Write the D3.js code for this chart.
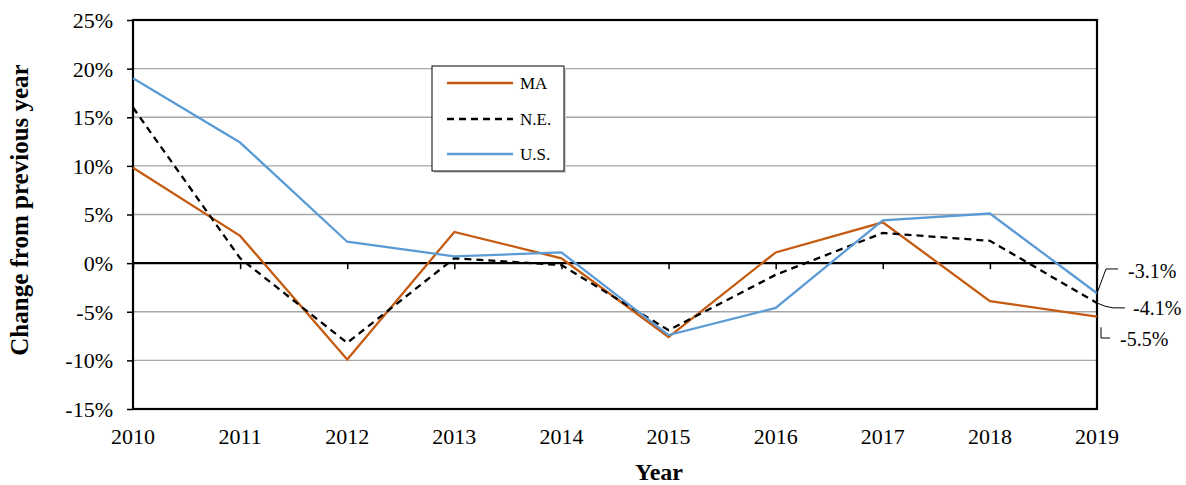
<!DOCTYPE html>
<html>
<head>
<meta charset="utf-8">
<script src="https://cdn.jsdelivr.net/npm/d3@7"></script>
<style>
  body { margin: 0; background: #fff; }
  svg { display: block; }
  svg text { font-family: "Liberation Serif", "Times New Roman", serif; fill: #000; }
</style>
</head>
<body>
<svg id="chart" width="1186" height="485"></svg>
<script>
// Year-over-year change, in percent
const years = [2010, 2011, 2012, 2013, 2014, 2015, 2016, 2017, 2018, 2019];
const maValues = [9.8, 2.8, -9.9, 3.2, 0.5, -7.6, 1.1, 4.2, -3.9, -5.5];
const neValues = [16.0, 0.5, -8.2, 0.5, -0.2, -6.9, -1.2, 3.1, 2.3, -4.1];
const usValues = [19.0, 12.4, 2.2, 0.7, 1.1, -7.4, -4.6, 4.4, 5.1, -3.1];
const yTicks = [-15, -10, -5, 0, 5, 10, 15, 20, 25];
const seriesNames = ["MA", "N.E.", "U.S."];

const series = [
  { name: seriesNames[0], values: maValues, color: "#c55a11", dash: null },
  { name: seriesNames[1], values: neValues, color: "#000000", dash: "7,5" },
  { name: seriesNames[2], values: usValues, color: "#5b9bd5", dash: null }
];

const svg = d3.select("#chart");
const plotLeft = 133, plotRight = 1097, plotTop = 20, plotBottom = 409;

const x = d3.scaleLinear().domain([2010, 2019]).range([plotLeft, plotRight]);
const y = d3.scaleLinear().domain([-15, 25]).range([plotBottom, plotTop]);

// Horizontal gridlines
svg.append("g")
  .selectAll("line")
  .data(yTicks.filter(t => t !== 0 && t !== 25 && t !== -15))
  .join("line")
  .attr("x1", plotLeft).attr("x2", plotRight)
  .attr("y1", d => y(d)).attr("y2", d => y(d))
  .attr("stroke", "#a6a6a6").attr("stroke-width", 1.3);

// Y axis with percent labels
const yAxis = d3.axisLeft(y).tickValues(yTicks).tickSize(6).tickPadding(14)
  .tickFormat(d => d + "%");
const gy = svg.append("g").attr("transform", `translate(${plotLeft},0)`).call(yAxis);
gy.attr("font-family", null).attr("font-size", null);
gy.select(".domain").remove();
gy.selectAll(".tick line").attr("stroke", "#000").attr("stroke-width", 1.5);
gy.selectAll(".tick text").attr("font-size", 22).attr("dy", "0.34em");

// Year labels along the bottom
svg.append("g")
  .selectAll("text")
  .data(years)
  .join("text")
  .attr("x", d => x(d)).attr("y", 444)
  .attr("text-anchor", "middle")
  .attr("font-size", 22)
  .text(d => d);

// Zero line with year ticks
const gx = svg.append("g").attr("transform", `translate(0,${y(0)})`)
  .call(d3.axisBottom(x).tickValues(years).tickSize(6).tickFormat(""));
gx.select(".domain").attr("stroke", "#000").attr("stroke-width", 2.2)
  .attr("d", `M${plotLeft},0H${plotRight}`);
gx.selectAll(".tick line").attr("stroke", "#000").attr("stroke-width", 1.5);

// Plot frame
svg.append("rect")
  .attr("x", plotLeft).attr("y", plotTop)
  .attr("width", plotRight - plotLeft).attr("height", plotBottom - plotTop)
  .attr("fill", "none").attr("stroke", "#000").attr("stroke-width", 2.2);

// Series lines
const line = d3.line().x((d, i) => x(years[i])).y(d => y(d));
svg.append("g")
  .selectAll("path")
  .data(series)
  .join("path")
  .attr("d", d => line(d.values))
  .attr("fill", "none")
  .attr("stroke", d => d.color)
  .attr("stroke-width", 2.3)
  .attr("stroke-dasharray", d => d.dash)
  .attr("stroke-linejoin", "miter");

// Legend
const legend = svg.append("g");
legend.append("rect")
  .attr("x", 434).attr("y", 68).attr("width", 132).attr("height", 105)
  .attr("fill", "#cfcfcf");
legend.append("rect")
  .attr("x", 432).attr("y", 66).attr("width", 132).attr("height", 105)
  .attr("fill", "#fff").attr("stroke", "#000").attr("stroke-width", 1);
const legendY = [83, 119, 154];
series.forEach((s, i) => {
  legend.append("line")
    .attr("x1", 447).attr("x2", 513)
    .attr("y1", legendY[i]).attr("y2", legendY[i])
    .attr("stroke", s.color).attr("stroke-width", 2.3)
    .attr("stroke-dasharray", s.dash);
  legend.append("text")
    .attr("x", 520).attr("y", legendY[i]).attr("dy", "0.35em")
    .attr("font-size", 17)
    .text(s.name);
});

// End-of-series value labels with leader lines
const endX = x(years[years.length - 1]);
const fmt = v => v.toFixed(1) + "%";
const callouts = [
  { v: usValues[9], path: p => `M${endX},${p}L${endX + 9},${y(-0.6)}H${endX + 21}`, tx: 1128, ty: y(-0.8) },
  { v: neValues[9], path: p => `M${endX},${p}Q${endX + 8},${y(-4.5)} ${endX + 16},${y(-4.6)}H${endX + 28}`, tx: 1133, ty: y(-4.6) },
  { v: maValues[9], path: p => `M${endX + 4},${y(-6.6)}V${y(-7.7)}H${endX + 13}`, tx: 1120, ty: y(-7.8) }
];
const ann = svg.append("g");
callouts.forEach(c => {
  ann.append("path")
    .attr("d", c.path(y(c.v)))
    .attr("fill", "none").attr("stroke", "#000").attr("stroke-width", 1);
  ann.append("text")
    .attr("x", c.tx).attr("y", c.ty).attr("dy", "0.35em")
    .attr("font-size", 20)
    .text(fmt(c.v));
});

// Axis titles
svg.append("text")
  .attr("x", 659).attr("y", 480)
  .attr("text-anchor", "middle")
  .attr("font-size", 24).attr("font-weight", "bold")
  .text("Year");
svg.append("text")
  .attr("transform", `translate(28,210) rotate(-90)`)
  .attr("text-anchor", "middle")
  .attr("font-size", 25).attr("font-weight", "bold")
  .text("Change from previous year");
</script>
</body>
</html>
